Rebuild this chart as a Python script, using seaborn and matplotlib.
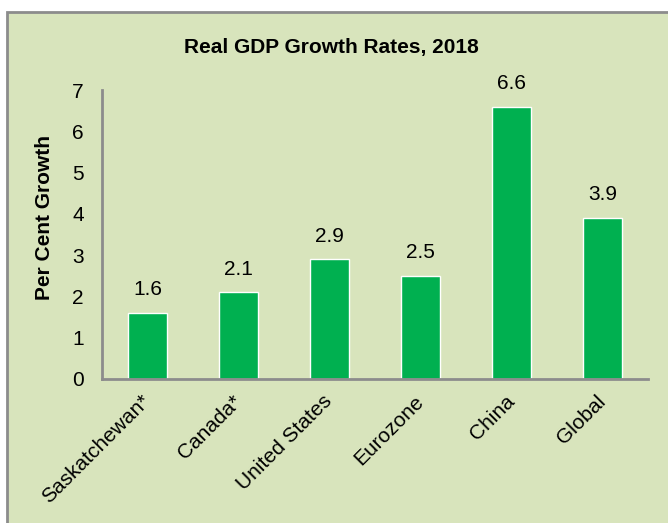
import matplotlib
matplotlib.use('Agg')
import matplotlib.pyplot as plt
import seaborn as sns
import pandas as pd
from matplotlib.patches import Rectangle

regions = ['Saskatchewan*', 'Canada*', 'United States', 'Eurozone', 'China', 'Global']
growth = [1.6, 2.1, 2.9, 2.5, 6.6, 3.9]
y_ticks = [0, 1, 2, 3, 4, 5, 6, 7]

df = pd.DataFrame({'region': regions, 'growth': growth})

sns.set_style('white')
plt.rcParams['font.family'] = ['Liberation Sans', 'DejaVu Sans']
plt.rcParams['text.color'] = 'black'
plt.rcParams['xtick.color'] = 'black'
plt.rcParams['ytick.color'] = 'black'

bg = '#D8E4BC'
fig = plt.figure(figsize=(6.68, 5.23), dpi=100, facecolor='white')
# green chart area with grey border, cut off at right/bottom edges
fig.patches.append(Rectangle((7 / 668, -0.05), 1.0, 1 - 12 / 523 + 0.05,
                             transform=fig.transFigure, facecolor=bg,
                             edgecolor='#8C8C8C', linewidth=2, zorder=-5))

ax = fig.add_axes([102 / 668, 1 - 379 / 523, 546 / 668, 289 / 523])
ax.patch.set_alpha(0)

sns.barplot(data=df, x='region', y='growth', color='#00B050', saturation=1,
            width=0.42, ax=ax)

for i, v in enumerate(growth):
    ax.text(i, v + 0.33, f'{v:.1f}', ha='center', va='bottom', fontsize=15)

ax.set_ylim(0, 7)
ax.set_yticks(y_ticks)
ax.set_xlim(-0.5, len(regions) - 0.5)
ax.tick_params(axis='both', length=0, labelsize=15)
ax.tick_params(axis='y', pad=13)
ax.tick_params(axis='x', pad=14)
plt.setp(ax.get_xticklabels(), rotation=45, ha='right', va='center',
         rotation_mode='anchor')
ax.set_xlabel('')
ax.set_ylabel('')

for s in ['top', 'right']:
    ax.spines[s].set_visible(False)
for s in ['left', 'bottom']:
    ax.spines[s].set_color('#8C8C8C')
    ax.spines[s].set_linewidth(2)

fig.text(331 / 668, 1 - 48 / 523, 'Real GDP Growth Rates, 2018', ha='center',
         va='center', fontsize=15, fontweight='bold')
fig.text(45 / 668, 1 - 217 / 523, 'Per Cent Growth', ha='center', va='center',
         rotation=90, fontsize=15, fontweight='bold')

fig.savefig('out.png', dpi=100, facecolor='white')
